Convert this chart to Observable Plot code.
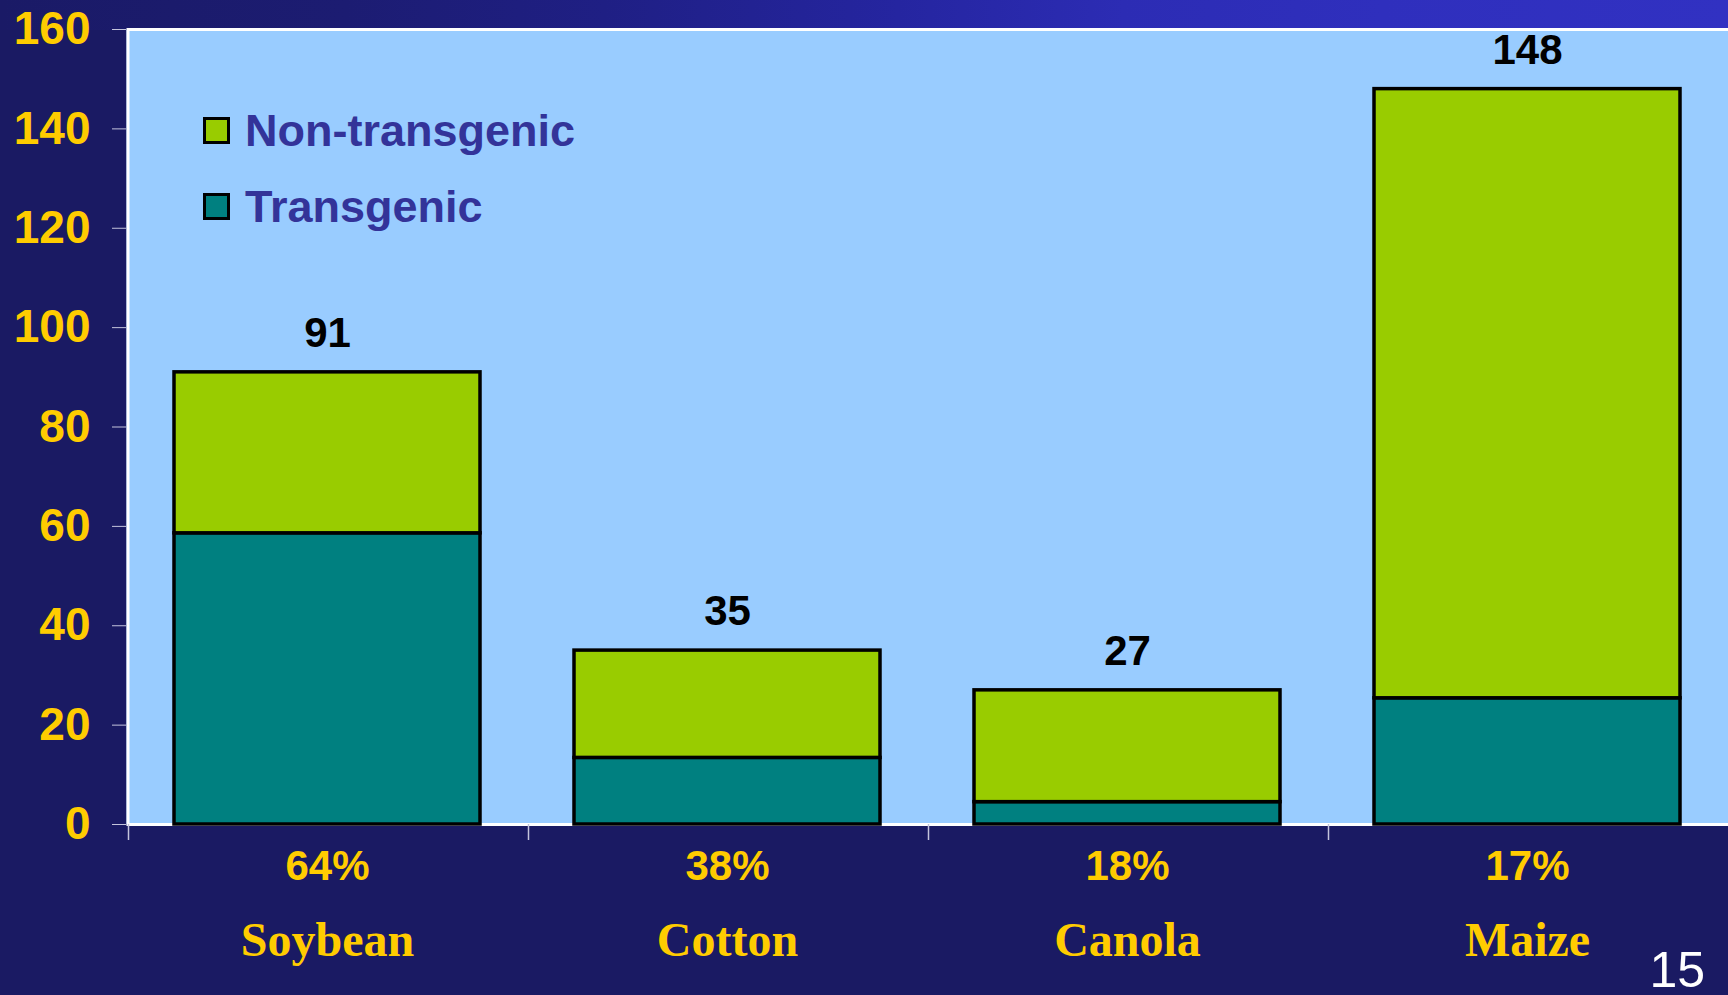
<!DOCTYPE html>
<html>
<head>
<meta charset="utf-8">
<script src="https://cdn.jsdelivr.net/npm/d3@7"></script>
<script src="https://cdn.jsdelivr.net/npm/@observablehq/plot@0.6"></script>
<style>
html, body { margin: 0; padding: 0; background: #1a1a63; width: 1728px; height: 995px; overflow: hidden; }
#wrap { position: relative; width: 1728px; height: 995px; }
#strip { position: absolute; left: 0; top: 0; width: 1728px; height: 30px;
  background: linear-gradient(to right, #1a1a66 0%, #1c1c72 20%, #1f1f84 35%, #2525a0 52%, #2c2cb4 65%, #2f2fbd 80%, #3131c2 100%); }
#chart { position: absolute; left: 0; top: 0; }
#legend { position: absolute; left: 203px; top: 108px; font-family: "Liberation Sans", Arial, sans-serif;
  font-weight: bold; font-size: 45px; color: #333399; }
#legend .row { display: flex; align-items: center; height: 45px; margin-bottom: 31px; line-height: 1; }
#legend .sw { width: 27px; height: 27px; box-sizing: border-box; border: 3.5px solid #000; margin-right: 15px; }
#page { position: absolute; right: 23px; top: 945px; font: 50px/1 "Liberation Sans", Arial, sans-serif; color: #ffffff; }
</style>
</head>
<body>
<div id="wrap">
  <div id="strip"></div>
  <div id="chart"></div>
  <div id="legend"></div>
  <div id="page">15</div>
</div>
<script>
// ---- data ----
const crops = ["Soybean", "Cotton", "Canola", "Maize"];
const totals = [91, 35, 27, 148];
const transgenic = [58.6, 13.4, 4.5, 25.4];
const nonTransgenic = [32.4, 21.6, 22.5, 122.6];
const adoption = ["64%", "38%", "18%", "17%"];
const series = ["Transgenic", "Non-transgenic"];
const seriesColors = ["#008080", "#99cc00"];
const legendOrder = ["Non-transgenic", "Transgenic"];
const yTicks = [0, 20, 40, 60, 80, 100, 120, 140, 160];

// ---- styles ----
const gold = "#ffcc00";
const tickColor = "#c4c4dc";
const plotBg = "#99ccff";

// table built from arrays
const rows = [];
crops.forEach((c, i) => rows.push({crop: c, series: "Transgenic", value: transgenic[i]}));
crops.forEach((c, i) => rows.push({crop: c, series: "Non-transgenic", value: nonTransgenic[i]}));
const totalRows = crops.map((c, i) => ({crop: c, total: totals[i]}));

// tick marks at band boundaries, computed from the x scale
function bandBoundaryTicks(index, scales, values, dimensions) {
  const x = scales.x;
  let bw, step;
  if (typeof x.bandwidth === "function") { bw = x.bandwidth(); step = x.step(); }
  else if (scales.scales && scales.scales.x) { bw = scales.scales.x.bandwidth; step = scales.scales.x.step; }
  const y0 = dimensions.height - dimensions.marginBottom;
  const g = d3.create("svg:g").attr("stroke", tickColor).attr("stroke-width", 1.5);
  for (const c of crops) {
    const bx = x(c) - (step - bw) / 2 + 1.5;
    g.append("line").attr("x1", bx).attr("x2", bx).attr("y1", y0).attr("y2", y0 + 16);
  }
  return g.node();
}

const chart = Plot.plot({
  width: 1728,
  height: 995,
  marginLeft: 126,
  marginRight: 0,
  marginTop: 29,
  marginBottom: 171,
  style: {background: "transparent", fontFamily: "'Liberation Sans', Arial, sans-serif", overflow: "visible"},
  x: {domain: crops, paddingInner: 0.235, paddingOuter: 0.1175, axis: null},
  y: {domain: [0, 160], axis: null},
  color: {domain: series, range: seriesColors},
  marks: [
    Plot.frame({fill: plotBg, stroke: null}),
    Plot.frame({stroke: "white", strokeWidth: 3, dx: 1.5}),
    Plot.barY(rows, {x: "crop", y: "value", fill: "series", stroke: "black", strokeWidth: 3.5}),
    Plot.text(totalRows, {x: "crop", y: "total", text: d => String(d.total), dy: -39,
      fontSize: 42, fontWeight: "bold", fill: "black"}),
    Plot.axisY({ticks: yTicks, tickSize: 14, tickPadding: 22, fill: gold, stroke: tickColor,
      fontSize: 46, fontWeight: "bold", label: null}),
    Plot.axisX({tickSize: 0, tickPadding: 26, tickFormat: c => adoption[crops.indexOf(c)],
      fill: gold, fontSize: 42, fontWeight: "bold", label: null}),
    Plot.axisX({tickSize: 0, tickPadding: 97, tickFormat: c => c, fill: gold, fontSize: 48,
      fontWeight: "bold", fontFamily: "'Liberation Serif', 'Times New Roman', serif", label: null}),
    bandBoundaryTicks
  ]
});
document.getElementById("chart").appendChild(chart);

// legend (HTML) built from series arrays
const legend = document.getElementById("legend");
for (const name of legendOrder) {
  const row = document.createElement("div");
  row.className = "row";
  const sw = document.createElement("div");
  sw.className = "sw";
  sw.style.background = seriesColors[series.indexOf(name)];
  const label = document.createElement("span");
  label.textContent = name;
  row.appendChild(sw);
  row.appendChild(label);
  legend.appendChild(row);
}
</script>
</body>
</html>
